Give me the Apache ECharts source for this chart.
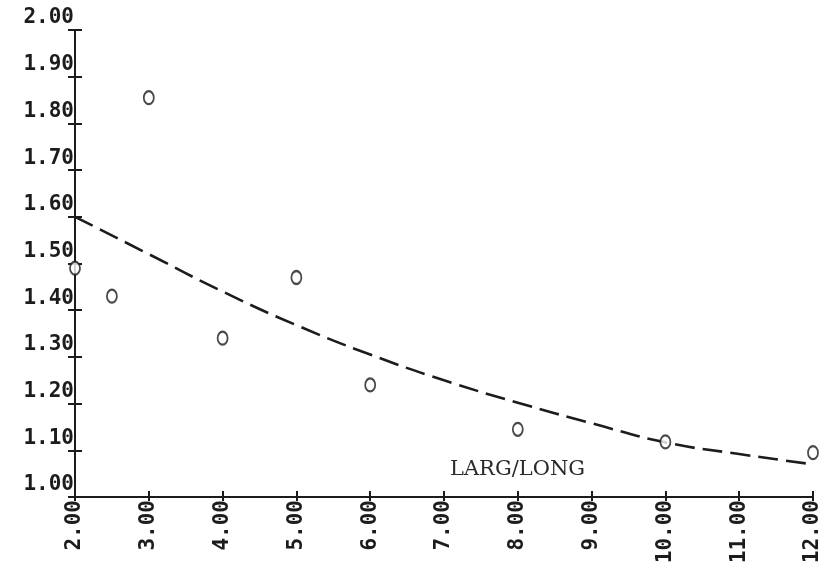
<!DOCTYPE html>
<html>
<head>
<meta charset="utf-8">
<script src="https://cdn.jsdelivr.net/npm/echarts@6/dist/echarts.min.js"></script>
<style>
  html, body { margin: 0; padding: 0; background: #ffffff; }
  #chart { width: 838px; height: 579px; }
</style>
</head>
<body>
<div id="chart"></div>
<script>
// Measured ratios against LARG/LONG
const obsX = [2, 2.5, 3, 4, 5, 6, 8, 10, 12];
const obsY = [1.49, 1.43, 1.855, 1.34, 1.47, 1.24, 1.145, 1.118, 1.095];

// Fitted trend, read at each unit of LARG/LONG
const fitX = [2, 3, 4, 5, 6, 7, 8, 9, 10, 11, 12];
const fitY = [1.60, 1.52, 1.44, 1.368, 1.305, 1.25, 1.202, 1.158, 1.117, 1.092, 1.07];

const xMin = 2, xMax = 12, xStep = 1;
const yMin = 1.0, yMax = 2.0, yStep = 0.1;
const xTitle = 'LARG/LONG';

const ink = '#1c1c1c';
const monoFont = '"DejaVu Sans Mono", "Liberation Mono", monospace';

const chart = echarts.init(document.getElementById('chart'), null, { renderer: 'canvas' });

const scatterData = obsX.map((x, i) => [x, obsY[i]]);
const fitData = fitX.map((x, i) => [x, fitY[i]]);

chart.setOption({
  backgroundColor: '#ffffff',
  animation: false,
  grid: { left: 75, top: 30, right: 25, bottom: 82, containLabel: false },
  xAxis: [
    {
      type: 'value', min: xMin, max: xMax, interval: xStep,
      axisLine: { show: true, lineStyle: { color: ink, width: 2 } },
      axisTick: { show: true, inside: false, length: 4, lineStyle: { color: ink, width: 2 } },
      splitLine: { show: false },
      axisLabel: {
        rotate: 90, margin: 3,
        color: ink, fontFamily: monoFont, fontSize: 21, fontWeight: 'bold',
        formatter: v => v.toFixed(2)
      }
    },
    {
      type: 'value', min: xMin, max: xMax, interval: xStep, position: 'bottom',
      axisLine: { show: false },
      axisTick: { show: true, inside: true, length: 6, lineStyle: { color: ink, width: 2 } },
      axisLabel: { show: false },
      splitLine: { show: false }
    }
  ],
  yAxis: [
    {
      type: 'value', min: yMin, max: yMax, interval: yStep,
      axisLine: { show: true, lineStyle: { color: ink, width: 2 } },
      axisTick: { show: true, inside: false, length: 7, lineStyle: { color: ink, width: 2 } },
      splitLine: { show: false },
      axisLabel: {
        margin: 1, verticalAlign: 'bottom', lineHeight: 24,
        color: ink, fontFamily: monoFont, fontSize: 21, fontWeight: 'bold',
        formatter: v => v.toFixed(2)
      }
    },
    {
      type: 'value', min: yMin, max: yMax, interval: yStep, position: 'left',
      axisLine: { show: false },
      axisTick: { show: true, inside: true, length: 7, lineStyle: { color: ink, width: 2 } },
      axisLabel: { show: false },
      splitLine: { show: false }
    }
  ],
  series: [
    {
      type: 'line',
      data: fitData,
      smooth: true,
      showSymbol: false,
      lineStyle: { color: ink, width: 2.6, type: [20, 8] },
      z: 2
    },
    {
      type: 'scatter',
      data: scatterData,
      symbol: 'emptyCircle',
      symbolSize: [10, 13],
      itemStyle: { color: ink, borderColor: ink, borderWidth: 2 },
      z: 3
    }
  ],
  graphic: [
    {
      type: 'text',
      left: 450, top: 459,
      style: {
        text: xTitle,
        fill: '#2a2a2a',
        font: '21px "DejaVu Serif", "Liberation Serif", serif'
      }
    }
  ]
});
</script>
</body>
</html>
